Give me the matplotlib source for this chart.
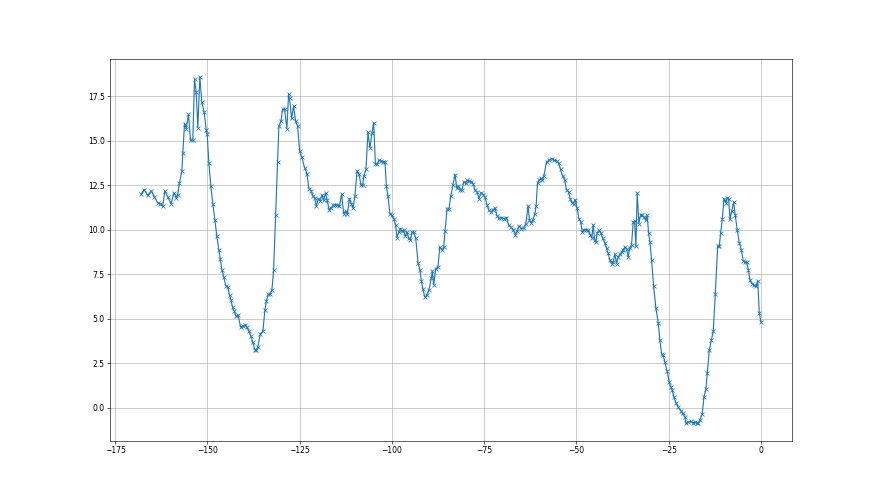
'''
    Line with x markers over a grid, default matplotlib look.
'''
import matplotlib
matplotlib.use('Agg')
import matplotlib.pyplot as plt

x_values = [
    -168.0, -167.1, -166.2, -165.2, -164.35, -163.45, -162.8, -162.1, -161.55, -160.74,
    -159.82, -159.11, -158.46, -158.03, -157.57, -156.94, -156.67, -156.21, -155.75, -155.13,
    -154.58, -153.96, -153.5, -153.04, -152.6, -152.06, -151.52, -150.87, -150.33, -150.06,
    -149.62, -149.08, -148.54, -147.99, -147.45, -146.91, -146.53, -146.09, -145.55, -145.01,
    -144.47, -144.01, -143.65, -143.19, -142.73, -142.19, -141.65, -141.02, -140.4, -139.75,
    -139.32, -138.77, -138.23, -137.69, -137.15, -136.77, -136.33, -135.68, -134.98, -134.43,
    -134.05, -133.51, -133.16, -132.54, -132.07, -131.53, -130.99, -130.64, -130.09, -129.63,
    -129.09, -128.47, -128.01, -127.74, -127.19, -126.65, -126.11, -125.57, -125.02, -124.48,
    -123.67, -123.04, -122.5, -121.9, -121.42, -120.96, -120.49, -119.95, -119.41, -118.98,
    -118.51, -117.97, -117.51, -117.08, -116.43, -115.88, -115.34, -114.8, -114.26, -113.63,
    -113.09, -112.55, -112.09, -111.54, -111.0, -110.57, -110.03, -109.48, -108.94, -108.4,
    -107.94, -107.59, -107.04, -106.5, -105.96, -105.42, -104.95, -104.49, -103.95, -103.52,
    -102.87, -102.32, -101.89, -101.51, -101.08, -100.53, -99.99, -99.45, -98.99, -98.64,
    -98.17, -97.71, -97.28, -96.82, -96.36, -95.92, -95.46, -95.0, -94.57, -94.11,
    -93.56, -92.94, -92.4, -92.02, -91.58, -91.12, -90.58, -89.96, -89.31, -89.03,
    -88.68, -88.14, -87.52, -87.06, -86.32, -85.97, -85.62, -85.08, -84.53, -84.07,
    -83.45, -82.91, -82.44, -81.98, -81.44, -81.01, -80.55, -80.0, -79.54, -79.0,
    -78.46, -78.02, -77.48, -76.94, -76.4, -75.85, -75.31, -74.77, -74.23, -73.69,
    -73.14, -72.6, -72.06, -71.52, -70.97, -70.32, -69.7, -68.97, -68.34, -67.8,
    -67.18, -66.53, -66.09, -65.55, -64.9, -64.27, -63.73, -63.11, -62.73, -62.19,
    -61.83, -61.29, -60.94, -60.56, -60.13, -59.66, -59.31, -58.85, -58.12, -57.41,
    -56.76, -56.06, -55.41, -54.86, -54.32, -53.78, -53.24, -52.69, -52.15, -51.72,
    -51.26, -50.8, -50.36, -49.82, -49.36, -48.82, -48.46, -47.92, -47.38, -46.84,
    -46.29, -45.83, -45.48, -45.1, -44.75, -44.4, -43.85, -43.39, -42.85, -42.31,
    -41.85, -41.41, -40.95, -40.49, -40.06, -39.6, -39.13, -38.7, -38.24, -37.78,
    -37.34, -36.88, -36.42, -35.99, -35.53, -35.07, -34.63, -34.25, -33.9, -33.55,
    -33.09, -32.63, -32.19, -31.73, -31.27, -30.84, -30.46, -30.1, -29.64, -29.1,
    -28.48, -27.85, -27.39, -26.93, -26.5, -26.04, -25.41, -24.87, -24.41, -24.06,
    -23.59, -23.05, -22.43, -21.78, -21.23, -20.61, -20.34, -19.72, -19.07, -18.52,
    -17.9, -17.44, -17.0, -16.54, -15.92, -15.46, -14.92, -14.56, -14.02, -13.48,
    -12.94, -12.39, -11.74, -11.31, -10.93, -10.5, -10.03, -9.49, -9.14, -8.76,
    -8.41, -7.95, -7.4, -6.97, -6.43, -5.89, -5.34, -4.8, -4.34, -3.88,
    -3.44, -2.98, -2.44, -1.9, -1.36, -0.89, -0.46, 0.0,
]

y_values = [
    11.99, 12.25, 11.93, 12.17, 11.83, 11.50, 11.46, 11.31, 12.17, 11.83,
    11.46, 12.06, 11.80, 11.97, 12.62, 13.28, 14.28, 15.96, 15.68, 16.47,
    15.02, 15.06, 18.44, 17.74, 15.72, 18.59, 17.15, 16.58, 15.59, 15.36,
    13.75, 12.47, 11.46, 10.56, 9.62, 8.87, 8.37, 7.75, 7.33, 6.83,
    6.77, 6.30, 6.06, 5.64, 5.42, 5.12, 5.18, 4.52, 4.57, 4.65,
    4.52, 4.29, 4.01, 3.67, 3.25, 3.21, 3.43, 4.15, 4.28, 5.46,
    5.98, 6.36, 6.36, 6.58, 7.71, 10.80, 13.79, 15.81, 16.09, 16.75,
    16.75, 15.68, 17.60, 17.37, 16.25, 16.95, 16.09, 15.81, 14.42, 14.10,
    13.48, 13.15, 12.30, 12.18, 11.87, 11.79, 11.33, 11.74, 11.61, 11.95,
    11.65, 12.06, 11.65, 11.12, 11.24, 11.37, 11.41, 11.37, 11.31, 11.99,
    10.90, 11.05, 10.86, 11.74, 11.46, 11.21, 11.87, 13.28, 13.11, 12.53,
    12.49, 13.00, 13.39, 15.46, 14.59, 15.43, 16.00, 13.71, 13.67, 13.90,
    13.84, 13.80, 13.80, 12.45, 11.87, 10.86, 10.80, 10.58, 10.24, 9.55,
    9.86, 10.06, 9.90, 9.96, 9.62, 9.86, 9.53, 9.40, 9.86, 9.86,
    9.53, 8.14, 7.71, 7.09, 6.64, 6.21, 6.30, 6.62, 7.30, 7.67,
    6.90, 7.80, 7.89, 9.02, 8.83, 9.02, 9.92, 11.14, 11.18, 11.87,
    12.53, 13.09, 12.36, 12.44, 12.21, 12.25, 12.68, 12.64, 12.77, 12.73,
    12.68, 12.59, 12.21, 12.11, 11.74, 12.08, 11.97, 11.83, 11.37, 11.09,
    10.99, 11.12, 11.21, 10.78, 10.63, 10.67, 10.62, 10.67, 10.24, 10.15,
    10.00, 9.72, 9.92, 10.20, 10.06, 10.11, 10.34, 11.33, 10.52, 10.39,
    10.56, 10.86, 11.33, 12.62, 12.77, 12.90, 12.77, 13.00, 13.80, 13.90,
    13.99, 13.90, 13.86, 13.75, 13.38, 13.02, 12.81, 12.25, 12.11, 11.74,
    11.52, 11.46, 11.69, 11.21, 10.62, 10.43, 9.86, 10.00, 10.00, 9.96,
    9.72, 9.53, 10.28, 9.44, 9.30, 9.81, 9.96, 9.79, 9.51, 9.25,
    8.96, 8.67, 8.27, 8.09, 8.18, 8.61, 8.09, 8.46, 8.61, 8.74,
    8.87, 9.02, 8.93, 8.46, 8.99, 9.16, 10.43, 10.47, 9.06, 12.06,
    10.34, 10.84, 10.80, 10.71, 10.52, 10.80, 9.81, 9.30, 8.27, 6.81,
    5.59, 4.77, 3.77, 3.02, 2.93, 2.55, 2.04, 1.42, 1.18, 0.96,
    0.58, 0.28, 0.02, -0.17, -0.32, -0.55, -0.88, -0.83, -0.77, -0.86,
    -0.83, -0.88, -0.88, -0.69, -0.35, 0.58, 1.05, 1.93, 3.21, 3.77,
    4.28, 6.36, 9.06, 9.06, 9.81, 10.58, 11.74, 11.50, 11.78, 11.74,
    10.58, 11.03, 11.55, 10.80, 9.96, 9.27, 8.87, 8.23, 8.18, 8.18,
    7.75, 7.15, 6.96, 6.86, 6.81, 7.11, 5.31, 4.80,
]


def main():
    fig = plt.figure(figsize=(16, 9), dpi=55)
    axes = fig.add_subplot(1, 1, 1)
    axes.plot(x_values, y_values, marker='x')
    axes.grid(True)
    fig.savefig('out.png', dpi=55)


if __name__ == '__main__':
    main()
